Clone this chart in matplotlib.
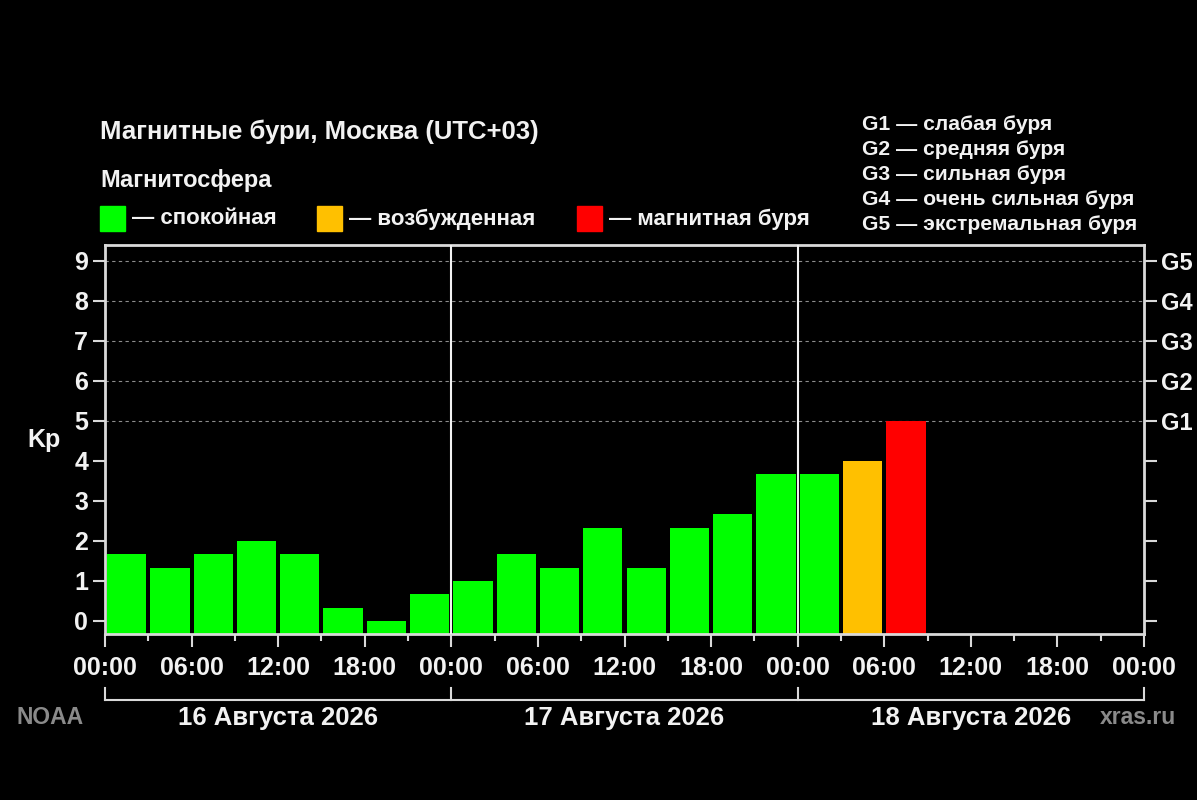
import matplotlib
matplotlib.use("Agg")
import matplotlib.pyplot as plt
from matplotlib.patches import Rectangle
from matplotlib.ticker import MultipleLocator

plt.rcParams["font.family"] = ["Liberation Sans", "DejaVu Sans"]
plt.rcParams["font.weight"] = "bold"

# ------------------------------------------------------------
# DATA
# ------------------------------------------------------------
kp_values = [1.67, 1.33, 1.67, 2.0, 1.67, 0.33, 0.0, 0.67,
             1.0, 1.67, 1.33, 2.33, 1.33, 2.33, 2.67, 3.67,
             3.67, 4.0, 5.0]
day_labels = ["16 Августа 2026", "17 Августа 2026", "18 Августа 2026"]
hour_labels = ["00:00", "06:00", "12:00", "18:00"]
storm_labels = ["G1", "G2", "G3", "G4", "G5"]
storm_descr = ["слабая буря", "средняя буря", "сильная буря",
               "очень сильная буря", "экстремальная буря"]
legend_labels = ["спокойная", "возбужденная", "магнитная буря"]

GREEN, ORANGE, RED = "#00ff00", "#ffc000", "#ff0000"
FG = "#f2f2f2"
SPINE = "#d9d9d9"
GRAY = "#8a8a8a"

W, H = 1197, 800
fig = plt.figure(figsize=(W / 100, H / 100), dpi=100, facecolor="black")


def fx(x):
    return x / W


def fy(y):
    return 1 - y / H


ax = fig.add_axes([fx(105), fy(634), fx(1144) - fx(105), fy(245) - fy(634)])
ax.set_facecolor("black")

ymin, ymax = -0.33, 9.4
ax.set_xlim(0, 72)
ax.set_ylim(ymin, ymax)

# grid only for storm levels
for lvl in range(5, 10):
    ax.axhline(lvl, color="#8c8c8c", lw=0.8, ls=(0, (3, 3)), zorder=0)

# bars, one per 3-hour interval
colors = []
for v in kp_values:
    if v >= 5:
        colors.append(RED)
    elif v >= 4:
        colors.append(ORANGE)
    else:
        colors.append(GREEN)
starts = [i * 3 + 0.14 for i in range(len(kp_values))]
ax.bar(starts, [v - ymin for v in kp_values], width=2.72, bottom=ymin,
       align="edge", color=colors, zorder=2)

# day separators
for d in (24, 48):
    ax.axvline(d, color=FG, lw=1.5, zorder=3)

for s in ax.spines.values():
    s.set_color(SPINE)
    s.set_linewidth(2)

ax.set_xticks(range(0, 73, 6))
ax.set_xticklabels([hour_labels[(h // 6) % 4] for h in range(0, 73, 6)])
ax.xaxis.set_minor_locator(MultipleLocator(3))
ax.set_yticks(range(0, 10))
ax.tick_params(axis="both", which="major", colors=SPINE, labelcolor=FG,
               labelsize=18, width=1.5, length=9, direction="out")
ax.tick_params(axis="x", which="minor", colors=SPINE, width=1.5, length=5)
ax.tick_params(axis="x", pad=7)
ax.tick_params(axis="y", pad=3)

ax.set_ylabel("Kp", color=FG, fontsize=18, fontweight="bold", rotation=0,
              labelpad=22, va="center")

ax2 = ax.twinx()
ax2.set_ylim(ymin, ymax)
ax2.set_yticks(range(0, 10))
ax2.set_yticklabels([""] * 5 + storm_labels)
ax2.tick_params(axis="y", colors=SPINE, labelcolor=FG, labelsize=17,
                width=1.5, length=9, pad=3)
for s in ax2.spines.values():
    s.set_visible(False)

# day bracket below the time axis
trans = ax.get_xaxis_transform()
yb = (634 - 700) / (634 - 245)
yt = (634 - 688) / (634 - 245)
ax.plot([0, 72], [yb, yb], color=SPINE, lw=1.5, transform=trans, clip_on=False)
for d in (0, 24, 48, 72):
    ax.plot([d, d], [yb, yt], color=SPINE, lw=1.5, transform=trans, clip_on=False)
yd = (634 - 718) / (634 - 245)
for i, lab in enumerate(day_labels):
    ax.text(i * 24 + 12, yd, lab, transform=trans, ha="center", va="center",
            color=FG, fontsize=18.5, fontweight="bold")

fig.text(fx(50), fy(718), "NOAA", color=GRAY, fontsize=16.5, ha="center", va="center")
fig.text(fx(1138), fy(718), "xras.ru", color=GRAY, fontsize=16.5, ha="center", va="center")

# header
fig.text(fx(100), fy(132), "Магнитные бури, Москва (UTC+03)", color=FG,
         fontsize=18.5, ha="left", va="center")
fig.text(fx(100), fy(181), "Магнитосфера", color=FG, fontsize=17,
         ha="left", va="center")

for x0, c, lab in zip((100, 317, 577), (GREEN, ORANGE, RED), legend_labels):
    fig.add_artist(Rectangle((fx(x0), fy(231)), fx(25), fy(206) - fy(231),
                             transform=fig.transFigure, color=c))
    fig.text(fx(x0 + 32), fy(219), "— " + lab, color=FG, fontsize=16,
             ha="left", va="center")

for i, (g, txt) in enumerate(zip(storm_labels, storm_descr)):
    fig.text(fx(862), fy(124 + i * 25.2), g + " — " + txt, color=FG,
             fontsize=15.2, ha="left", va="center")

fig.savefig("out.png", dpi=100, facecolor="black")
